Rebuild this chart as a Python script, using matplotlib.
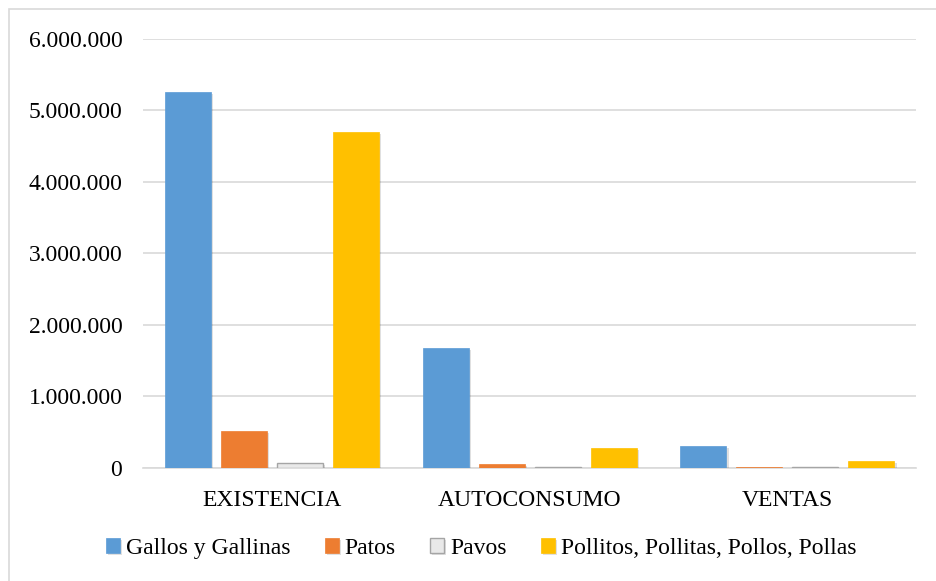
import matplotlib
matplotlib.use("Agg")
import matplotlib.pyplot as plt
import matplotlib.patheffects as pe
from matplotlib.patches import Rectangle
from matplotlib.ticker import FuncFormatter, MultipleLocator
import numpy as np

categories = ["EXISTENCIA", "AUTOCONSUMO", "VENTAS"]
series_names = ["Gallos y Gallinas", "Patos", "Pavos", "Pollitos, Pollitas, Pollos, Pollas"]
gallos = [5255000, 1680000, 312000]
patos = [517000, 56000, 12000]
pavos = [70000, 12000, 12000]
pollitos = [4697000, 282000, 100000]

face_colors = ["#5b9bd5", "#ed7d31", "#e9e9e9", "#ffc000"]
edge_colors = ["#5b9bd5", "#ed7d31", "#a5a5a5", "#ffc000"]

plt.rcParams["font.family"] = ["Liberation Serif", "DejaVu Serif"]

fig = plt.figure(figsize=(9.36, 5.81), dpi=100)
ax = fig.add_axes([0.153, 0.1945, 0.826, 0.7385])

# outer frame (top and left edges visible)
fig.patches.append(Rectangle((9 / 936, -0.2), 1.2, 1.2 - 9 / 581,
                             transform=fig.transFigure, fill=False,
                             edgecolor="#d9d9d9", linewidth=1.2, zorder=0))

x = np.arange(len(categories))
step = 0.2173
width = 0.1785
all_series = [gallos, patos, pavos, pollitos]
shadow = [pe.SimplePatchShadow(offset=(1.5, -1.5), shadow_rgbFace="#000000", alpha=0.12), pe.Normal()]
for i, (vals, name) in enumerate(zip(all_series, series_names)):
    offs = (i - 1.5) * step
    ax.bar(x + offs, vals, width=width, color=face_colors[i], edgecolor=edge_colors[i],
           linewidth=1.0 if i == 2 else 0.5, label=name, zorder=3, path_effects=shadow)

ax.set_xlim(-0.5, 2.5)
ax.set_ylim(0, 6000000)
ax.yaxis.set_major_locator(MultipleLocator(1000000))
ax.yaxis.set_major_formatter(FuncFormatter(lambda v, p: f"{int(v):,}".replace(",", ".")))
ax.grid(axis="y", color="#d9d9d9", linewidth=1.2, zorder=0)
ax.set_axisbelow(True)
for s in ["top", "right", "left"]:
    ax.spines[s].set_visible(False)
ax.spines["bottom"].set_color("#d9d9d9")
ax.spines["bottom"].set_linewidth(1.2)
ax.set_xticks(x)
ax.set_xticklabels(categories)
ax.tick_params(axis="both", length=0, labelsize=17, colors="black")
ax.tick_params(axis="y", pad=15)
ax.tick_params(axis="x", pad=16)

leg = fig.legend(loc="center", bbox_to_anchor=(0.514, 0.056), ncol=4, frameon=False,
                 fontsize=17, handlelength=0.6, handleheight=0.6, handletextpad=0.25,
                 columnspacing=1.45)

fig.savefig("out.png", dpi=100)
